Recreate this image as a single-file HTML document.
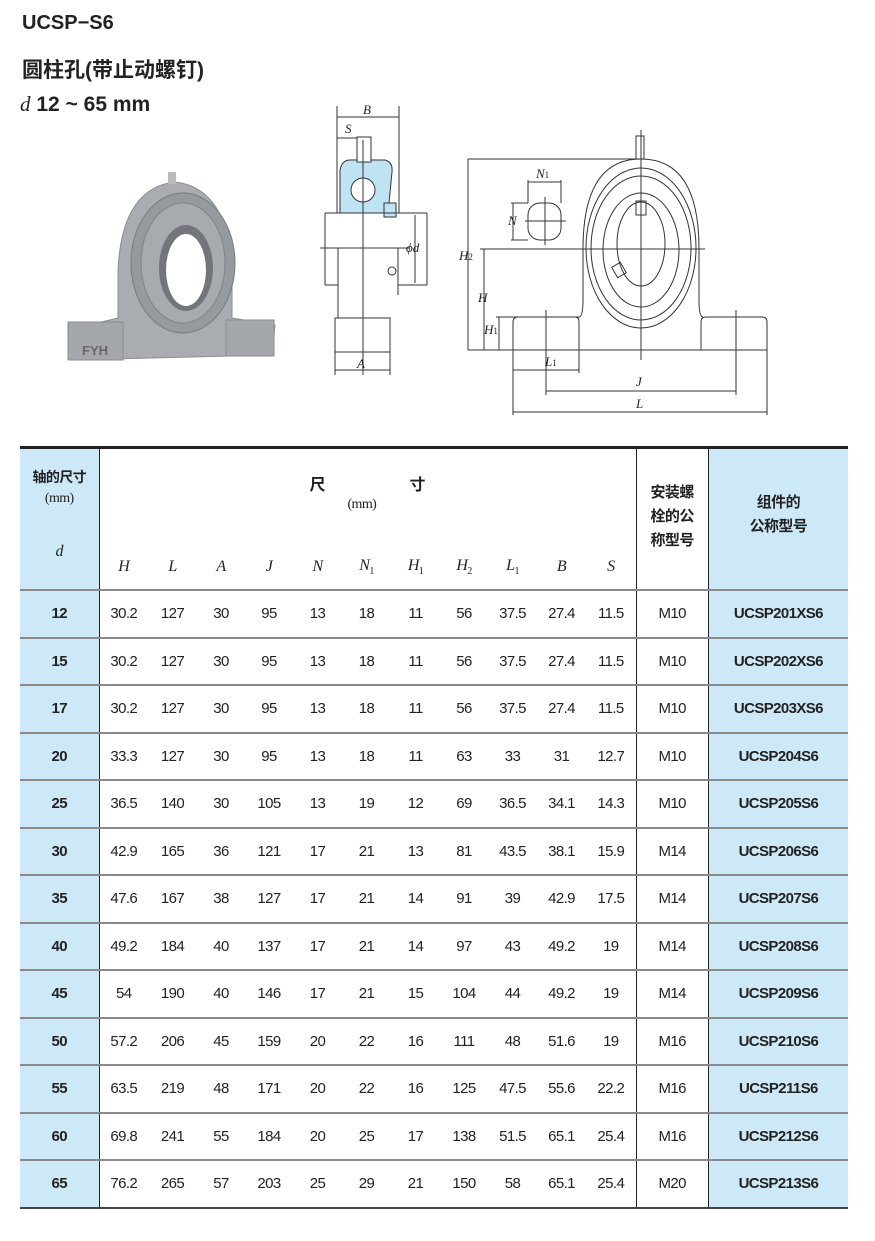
<!DOCTYPE html>
<html><head><meta charset="utf-8"><style>
body{margin:0;width:875px;height:1241px;background:#fff;position:relative;font-family:"Liberation Sans","Noto Sans CJK SC",sans-serif;overflow:hidden}
.t{position:absolute;color:#222}
table{position:absolute;left:20px;top:446px;border-collapse:collapse;table-layout:fixed;width:828px;border-top:3px solid #222;border-bottom:2px solid #444}
td{padding:0;text-align:center;font-size:15px;color:#222;letter-spacing:-0.6px;border-top:2px solid #8a8a8a}
td.b{background:#cde9f8;font-weight:bold}
td.v{border-right:1.5px solid #222}
tr.r td{height:45.5px}
.i{font-family:"Liberation Serif",serif;font-style:italic;font-size:16px}
sub{font-size:10px;font-style:normal}
</style></head><body>
<div class="t" style="left:22px;top:12px;font-size:20px;font-weight:bold">UCSP−S6</div>
<div class="t" style="left:22px;top:54px;font-size:21px;font-weight:bold">圆柱孔(带止动螺钉)</div>
<div class="t" style="left:20px;top:92px;font-size:21px"><span style="font-family:'Liberation Serif',serif;font-style:italic">d</span> <b>12 ~ 65 mm</b></div>

<svg style="position:absolute;left:0;top:0" width="875" height="440">
<g fill="#a9adb2" stroke="#8a8e93">
<path d="M68,330 L118,318 L118,270 Q122,188 175,182 Q228,188 232,270 L232,318 L275,325 L272,355 L70,360 Z"/>
<rect x="68" y="322" width="55" height="38" fill="#a4a8ad"/>
<rect x="226" y="320" width="48" height="36" fill="#a4a8ad"/>
</g>
<rect x="168" y="172" width="8" height="12" fill="#bbb"/>
<ellipse cx="183" cy="263" rx="52" ry="70" fill="#959a9f" stroke="#777b80"/>
<ellipse cx="183" cy="263" rx="42" ry="60" fill="#a7abb0" stroke="#80848a"/>
<ellipse cx="186" cy="268" rx="27" ry="43" fill="#72767b"/>
<ellipse cx="186" cy="270" rx="20" ry="36" fill="#fff"/>
<text x="82" y="355" font-size="13" font-weight="bold" fill="#666" font-family="Liberation Sans">FYH</text>
<g stroke="#333" stroke-width="1" fill="none">
<line x1="337" y1="106" x2="337" y2="213"/><line x1="399" y1="106" x2="399" y2="213"/>
<line x1="337" y1="117" x2="399" y2="117"/><line x1="337" y1="138" x2="361" y2="138"/>
<path d="M340,213 L340,170 Q342,160 350,160 L385,160 Q393,162 392,172 L388,213 Z" fill="#bfe3f3"/>
<rect x="357" y="137" width="14" height="25" fill="#fff"/>
<circle cx="363" cy="190" r="12" fill="#fff"/>
<rect x="384" y="203" width="12" height="14" fill="#bfe3f3"/>
<line x1="325" y1="213" x2="427" y2="213"/>
<line x1="325" y1="213" x2="325" y2="285"/><line x1="427" y1="213" x2="427" y2="285"/>
<line x1="325" y1="285" x2="338" y2="285"/><line x1="398" y1="285" x2="427" y2="285"/>
<line x1="338" y1="248" x2="338" y2="318"/><line x1="398" y1="248" x2="398" y2="295"/>
<line x1="320" y1="248" x2="410" y2="248"/>
<line x1="415" y1="215" x2="415" y2="283"/>
<circle cx="392" cy="271" r="4"/>
<path d="M335,318 L390,318 L390,352 L335,352 Z"/>
<line x1="363" y1="140" x2="363" y2="375"/>
<line x1="335" y1="352" x2="335" y2="375"/><line x1="390" y1="352" x2="390" y2="375"/>
<line x1="335" y1="370" x2="390" y2="370"/>
</g>
<g font-family="Liberation Serif" font-style="italic" font-size="13" fill="#222">
<text x="363" y="114">B</text><text x="345" y="133">S</text><text x="357" y="368">A</text><text x="406" y="252">ϕd</text>
</g>
<g stroke="#333" stroke-width="1" fill="none">
<line x1="468" y1="159" x2="640" y2="159"/>
<line x1="468" y1="159" x2="468" y2="350"/>
<line x1="484" y1="249" x2="484" y2="350"/>
<line x1="499" y1="317" x2="499" y2="350"/>
<line x1="480" y1="249" x2="705" y2="249"/>
<line x1="468" y1="350" x2="767" y2="350"/>
<line x1="496" y1="317" x2="579" y2="317"/>
<path d="M513,350 L513,322 Q513,317 518,317 L575,317 Q579,317 579,322 L579,350"/>
<path d="M701,350 L701,322 Q701,317 706,317 L762,317 Q767,317 767,322 L767,350"/>
<path d="M579,317 Q583,317 583,300 L583,249 Q583,159 641,159 Q699,159 699,249 L699,300 Q699,317 703,317"/>
<ellipse cx="641" cy="248" rx="55" ry="80"/>
<ellipse cx="641" cy="248" rx="50" ry="72"/>
<ellipse cx="641" cy="250" rx="38" ry="57"/>
<ellipse cx="641" cy="244" rx="24" ry="42"/>
<rect x="636" y="201" width="10" height="14"/>
<rect x="614" y="264" width="10" height="12" transform="rotate(-30 619 270)"/>
<rect x="636" y="136" width="8" height="23"/>
<line x1="641" y1="130" x2="641" y2="360"/>
<line x1="546" y1="310" x2="546" y2="395"/><line x1="736" y1="310" x2="736" y2="395"/>
<line x1="513" y1="350" x2="513" y2="415"/><line x1="767" y1="350" x2="767" y2="415"/>
<line x1="579" y1="350" x2="579" y2="373"/>
<line x1="513" y1="370" x2="579" y2="370"/>
<line x1="546" y1="391" x2="736" y2="391"/>
<line x1="513" y1="412" x2="767" y2="412"/>
<rect x="528" y="203" width="33" height="37" rx="12"/>
<line x1="528" y1="180" x2="528" y2="203"/><line x1="561" y1="180" x2="561" y2="203"/>
<line x1="528" y1="182" x2="561" y2="182"/>
<line x1="511" y1="203" x2="528" y2="203"/><line x1="511" y1="240" x2="528" y2="240"/>
<line x1="513" y1="203" x2="513" y2="240"/>
<line x1="525" y1="221" x2="566" y2="221"/><line x1="545" y1="197" x2="545" y2="245"/>
</g>
<g font-family="Liberation Serif" font-style="italic" font-size="13" fill="#222">
<text x="536" y="178">N<tspan font-size="9" font-style="normal">1</tspan></text>
<text x="508" y="225">N</text>
<text x="459" y="260">H<tspan font-size="9" font-style="normal">2</tspan></text>
<text x="478" y="302">H</text>
<text x="484" y="334">H<tspan font-size="9" font-style="normal">1</tspan></text>
<text x="545" y="366">L<tspan font-size="9" font-style="normal">1</tspan></text>
<text x="636" y="386">J</text>
<text x="636" y="408">L</text>
</g>
</svg>

<table>
<colgroup><col style="width:79px"><col style="width:49px"><col style="width:49px"><col style="width:48px"><col style="width:48px"><col style="width:49px"><col style="width:49px"><col style="width:49px"><col style="width:48px"><col style="width:49px"><col style="width:49px"><col style="width:50px"><col style="width:72px"><col style="width:140px"></colgroup>
<tr><td rowspan="2" class="b v" style="height:140px;border-top:0;font-weight:normal;vertical-align:top;position:relative"><div style="margin-top:18px;font-size:14px;font-weight:bold">轴的尺寸</div><div style="margin-top:4px;font-family:'Liberation Serif',serif;font-size:14px">(mm)</div><div class="i" style="margin-top:36px">d</div></td>
<td colspan="11" class="v" style="height:95px;border-top:0;position:relative"><div style="position:absolute;left:210px;top:22px;font-size:16px;font-weight:bold">尺</div><div style="position:absolute;left:310px;top:22px;font-size:16px;font-weight:bold">寸</div><div style="position:absolute;left:248px;top:48px;font-family:'Liberation Serif',serif;font-size:14px">(mm)</div></td>
<td rowspan="2" class="v" style="border-top:0;font-size:15px;line-height:24px;vertical-align:top;padding-top:32px;font-weight:bold">安装螺<br>栓的公<br>称型号</td>
<td rowspan="2" class="b" style="border-top:0;font-weight:bold;font-size:15px;line-height:24px;vertical-align:top;padding-top:42px">组件的<br>公称型号</td></tr>
<tr style="height:45px"><td class="i" style="border-top:0">H</td><td class="i" style="border-top:0">L</td><td class="i" style="border-top:0">A</td><td class="i" style="border-top:0">J</td><td class="i" style="border-top:0">N</td><td class="i" style="border-top:0">N<sub>1</sub></td><td class="i" style="border-top:0">H<sub>1</sub></td><td class="i" style="border-top:0">H<sub>2</sub></td><td class="i" style="border-top:0">L<sub>1</sub></td><td class="i" style="border-top:0">B</td><td class="i v" style="border-top:0">S</td></tr>
<tr class="r"><td class="b v">12</td><td>30.2</td><td>127</td><td>30</td><td>95</td><td>13</td><td>18</td><td>11</td><td>56</td><td>37.5</td><td>27.4</td><td class="v">11.5</td><td class="v">M10</td><td class="b">UCSP201XS6</td></tr>
<tr class="r"><td class="b v">15</td><td>30.2</td><td>127</td><td>30</td><td>95</td><td>13</td><td>18</td><td>11</td><td>56</td><td>37.5</td><td>27.4</td><td class="v">11.5</td><td class="v">M10</td><td class="b">UCSP202XS6</td></tr>
<tr class="r"><td class="b v">17</td><td>30.2</td><td>127</td><td>30</td><td>95</td><td>13</td><td>18</td><td>11</td><td>56</td><td>37.5</td><td>27.4</td><td class="v">11.5</td><td class="v">M10</td><td class="b">UCSP203XS6</td></tr>
<tr class="r"><td class="b v">20</td><td>33.3</td><td>127</td><td>30</td><td>95</td><td>13</td><td>18</td><td>11</td><td>63</td><td>33</td><td>31</td><td class="v">12.7</td><td class="v">M10</td><td class="b">UCSP204S6</td></tr>
<tr class="r"><td class="b v">25</td><td>36.5</td><td>140</td><td>30</td><td>105</td><td>13</td><td>19</td><td>12</td><td>69</td><td>36.5</td><td>34.1</td><td class="v">14.3</td><td class="v">M10</td><td class="b">UCSP205S6</td></tr>
<tr class="r"><td class="b v">30</td><td>42.9</td><td>165</td><td>36</td><td>121</td><td>17</td><td>21</td><td>13</td><td>81</td><td>43.5</td><td>38.1</td><td class="v">15.9</td><td class="v">M14</td><td class="b">UCSP206S6</td></tr>
<tr class="r"><td class="b v">35</td><td>47.6</td><td>167</td><td>38</td><td>127</td><td>17</td><td>21</td><td>14</td><td>91</td><td>39</td><td>42.9</td><td class="v">17.5</td><td class="v">M14</td><td class="b">UCSP207S6</td></tr>
<tr class="r"><td class="b v">40</td><td>49.2</td><td>184</td><td>40</td><td>137</td><td>17</td><td>21</td><td>14</td><td>97</td><td>43</td><td>49.2</td><td class="v">19</td><td class="v">M14</td><td class="b">UCSP208S6</td></tr>
<tr class="r"><td class="b v">45</td><td>54</td><td>190</td><td>40</td><td>146</td><td>17</td><td>21</td><td>15</td><td>104</td><td>44</td><td>49.2</td><td class="v">19</td><td class="v">M14</td><td class="b">UCSP209S6</td></tr>
<tr class="r"><td class="b v">50</td><td>57.2</td><td>206</td><td>45</td><td>159</td><td>20</td><td>22</td><td>16</td><td>111</td><td>48</td><td>51.6</td><td class="v">19</td><td class="v">M16</td><td class="b">UCSP210S6</td></tr>
<tr class="r"><td class="b v">55</td><td>63.5</td><td>219</td><td>48</td><td>171</td><td>20</td><td>22</td><td>16</td><td>125</td><td>47.5</td><td>55.6</td><td class="v">22.2</td><td class="v">M16</td><td class="b">UCSP211S6</td></tr>
<tr class="r"><td class="b v">60</td><td>69.8</td><td>241</td><td>55</td><td>184</td><td>20</td><td>25</td><td>17</td><td>138</td><td>51.5</td><td>65.1</td><td class="v">25.4</td><td class="v">M16</td><td class="b">UCSP212S6</td></tr>
<tr class="r"><td class="b v">65</td><td>76.2</td><td>265</td><td>57</td><td>203</td><td>25</td><td>29</td><td>21</td><td>150</td><td>58</td><td>65.1</td><td class="v">25.4</td><td class="v">M20</td><td class="b">UCSP213S6</td></tr>
</table>
</body></html>
